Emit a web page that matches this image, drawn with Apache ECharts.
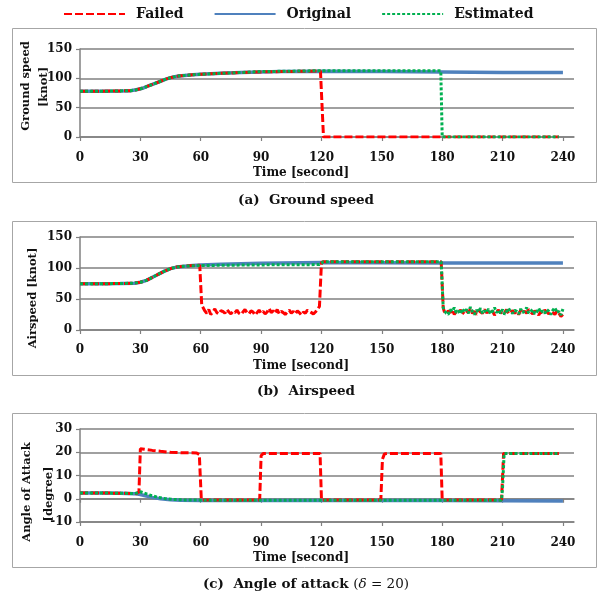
<!DOCTYPE html>
<html>
<head>
<meta charset="utf-8">
<script src="https://cdn.jsdelivr.net/npm/echarts@6/dist/echarts.min.js"></script>
<style>
  html, body { margin: 0; padding: 0; background: #fff; }
  #chart { width: 600px; height: 596px; }
</style>
</head>
<body>
<div id="chart"></div>
<script>
// tick labels
var xTicks = [0, 30, 60, 90, 120, 150, 180, 210, 240];

// (a) ground speed [t, knot]
var gsOriginal = [[0,78],[10,78],[20,78.5],[25,79],[28,80.5],[31,83],[34,87],[37,91],[40,95],[43,99],[46,102],[49,104],[52,105],[56,106],[60,107],[70,108.5],[80,110],[90,111],[100,111.5],[120,112],[150,111.5],[180,111],[210,110],[240,110]];
var gsFailed = [[0,78],[10,78],[20,78.5],[25,79],[28,80.5],[31,83],[34,87],[37,91],[40,95],[43,99],[46,102],[49,104],[52,105],[56,106],[60,107],[70,108.5],[80,110],[90,111],[100,111.5],[119.5,112.5],[121,0],[150,0],[180,0],[210,0],[238,0]];
var gsEstimated = [[0,78],[10,78],[20,78.5],[25,79],[28,80.5],[31,83],[34,87],[37,91],[40,95],[43,99],[46,102],[49,104],[52,105],[56,106],[60,107],[70,108.5],[80,110],[90,111.5],[120,113],[150,113],[179.3,113],[180,0],[210,0],[238,0]];

// (b) airspeed [t, knot]
var asOriginal = [[0,74.5],[10,74.5],[20,75],[27,75.5],[30,77],[33,80],[36,85],[39,90],[42,95],[45,99],[48,101.5],[52,103],[56,104],[60,105],[70,106],[90,107.5],[120,109],[150,108.5],[180,108],[210,108],[240,108]];
var asEstimatedHead = [[0,74.5],[10,74.5],[20,75],[27,75.5],[30,77],[33,80],[36,85],[39,90],[42,95],[45,99],[48,101.5],[52,103],[56,103.5],[60,104],[90,105],[119,105.5],[121,110],[150,110],[179.5,110],[180.5,36]];
var asEstimatedNoise = [32,27,25,33,30,36,28,31,26,34, 29,33,27,37,30,25,32,29,35,27, 31,28,34,26,30,36,28,32,27,33, 25,30,35,29,27,32,30,26,34,28, 31,36,27,30,33,26,29,35,28,31, 27,33,30,25,32,36,28,30,24,34];
var asFailedHead = [[0,74.5],[10,74.5],[20,75],[27,75.5],[30,77],[33,80],[36,85],[39,90],[42,95],[45,99],[48,101.5],[52,103],[56,104],[59.5,104.5],[60.5,40]];
var asFailedNoise1 = [37,31,27,33,25,29,34,28,26,31, 30,27,33,29,26,30,28,32,27,25, 29,33,28,26,31,29,24,28,32,27, 30,26,29,35,28,31,27,33,26,30, 28,25,29,32,27,30,26,31,28,24, 29,27,32,30,28,26,29,33,38];
var asFailedMid = [[120,109],[121,110],[150,110],[179.5,110],[180.5,36]];
var asFailedNoise2 = [30,26,31,28,33,25,30,27,32,29, 26,31,28,34,27,30,25,32,29,27, 33,28,30,26,31,24,29,32,27,30, 28,33,26,29,31,27,30,25,32,28, 30,27,33,29,26,31,28,24,30,27, 32,29,26,30,28,25,31,27,22,25];

// (c) angle of attack [t, degree]
var aoaOriginal = [[0,2.5],[10,2.5],[20,2.4],[27,2.2],[30,1.8],[33,1.2],[36,0.6],[40,0],[45,-0.4],[50,-0.6],[60,-0.8],[90,-0.8],[120,-0.8],[150,-0.8],[180,-0.8],[210,-0.9],[240,-1]];
var aoaFailed = [[0,2.5],[20,2.4],[28,2.2],[29.3,3],[30,21.5],[32,21.3],[36,20.8],[40,20.4],[45,20],[50,19.8],[58,19.7],[59.3,19],[60.3,-0.5],[89.3,-0.5],[90,18.5],[91,19.5],[119.3,19.5],[120,-0.5],[149.5,-0.5],[150.3,17],[151.3,19.3],[153,19.5],[179.3,19.5],[180,-0.5],[209.5,-0.5],[210.5,19.5],[238,19.5]];
var aoaEstimated = [[0,2.5],[20,2.4],[27,2.2],[29,2.6],[30,3],[32,2.4],[35,1.5],[38,0.8],[42,0.1],[46,-0.3],[52,-0.5],[60,-0.6],[90,-0.6],[150,-0.6],[209.5,-0.6],[210,5],[210.8,19.5],[238,19.5]];

function seg(start, vals) {
  var out = [];
  for (var i = 0; i < vals.length; i++) out.push([start + i, vals[i]]);
  return out;
}

var asEstimated = asEstimatedHead.concat(seg(181, asEstimatedNoise));
var asFailed = asFailedHead.concat(seg(61, asFailedNoise1), asFailedMid, seg(181, asFailedNoise2));

var FONT = 'DejaVu Serif';
var GRIDC = '#808080';
var RED = '#ff0000', BLUE = '#4f81bd', GREEN = '#00b050';

function xAxisOf(i, margin, labels) {
  return {
    gridIndex: i, type: 'value', min: 0, max: 245.5, interval: 30, position: 'bottom',
    axisLine: { show: true, onZero: false, lineStyle: { color: GRIDC, width: 1.5 } },
    axisTick: { show: true, length: 4, customValues: xTicks, lineStyle: { color: GRIDC, width: 1.2 } },
    axisLabel: { show: labels !== false, customValues: xTicks, margin: margin, color: '#111', fontFamily: FONT, fontWeight: 'bold', fontSize: 12 },
    splitLine: { show: false }
  };
}
function yAxisOf(i, min, max, step) {
  return {
    gridIndex: i, type: 'value', min: min, max: max, interval: step,
    axisLine: { show: true, lineStyle: { color: GRIDC, width: 1.5 } },
    axisTick: { show: true, length: 4, lineStyle: { color: GRIDC, width: 1.2 } },
    axisLabel: { margin: 8, color: '#111', fontFamily: FONT, fontWeight: 'bold', fontSize: 12 },
    splitLine: { show: true, lineStyle: { color: GRIDC, width: 1.5 } }
  };
}
function line(name, i, data) {
  var st = { width: 3, color: RED, type: [8, 3], cap: 'butt' };
  if (name === 'Original') st = { width: 3.5, color: BLUE, type: 'solid' };
  if (name === 'Estimated') st = { width: 3, color: GREEN, type: [3, 2], cap: 'butt' };
  return {
    name: name, type: 'line', xAxisIndex: i, yAxisIndex: i, data: data,
    symbol: 'none', lineStyle: st, itemStyle: { color: st.color }, animation: false
  };
}
function txt(x, y, s, size, rot) {
  return {
    type: 'text', x: x, y: y, rotation: rot || 0, silent: true,
    style: { text: s, fill: '#111', font: 'bold ' + size + 'px "' + FONT + '"', align: 'center', verticalAlign: 'middle' }
  };
}
function box(y, h) {
  return { type: 'rect', silent: true, z: -1, shape: { x: 12.5, y: y, width: 584, height: h },
    style: { fill: 'none', stroke: '#a6a6a6', lineWidth: 1 } };
}

// angle of attack: line and ticks sit on zero, labels stay at the bottom
var aoaZeroAxis = xAxisOf(2, 0, false);
aoaZeroAxis.offset = -23.25;

var myChart = echarts.init(document.getElementById('chart'));
var option = {
  animation: false,
  legend: {
    data: ['Failed', 'Original', 'Estimated'],
    left: 58, top: 2, itemWidth: 61, itemHeight: 14, itemGap: 30,
    itemStyle: { opacity: 0 },
    textStyle: { fontFamily: FONT, fontWeight: 'bold', fontSize: 14, color: '#111', padding: [0, 0, 0, 6] }
  },
  grid: [
    { left: 80, top: 49, width: 494, height: 88 },
    { left: 80, top: 237, width: 494, height: 93 },
    { left: 80, top: 429, width: 494, height: 93 }
  ],
  xAxis: [xAxisOf(0, 15), xAxisOf(1, 14), xAxisOf(2, 15), aoaZeroAxis],
  yAxis: [yAxisOf(0, 0, 150, 50), yAxisOf(1, 0, 150, 50), yAxisOf(2, -10, 30, 10)],
  series: [
    line('Original', 0, gsOriginal), line('Failed', 0, gsFailed), line('Estimated', 0, gsEstimated),
    line('Original', 1, asOriginal), line('Failed', 1, asFailed), line('Estimated', 1, asEstimated),
    line('Original', 2, aoaOriginal), line('Failed', 2, aoaFailed), line('Estimated', 2, aoaEstimated)
  ],
  graphic: [
    box(28.5, 154), box(221.5, 154), box(413.5, 154),
    txt(301, 173, 'Time [second]', 12), txt(301, 366, 'Time [second]', 12), txt(301, 558, 'Time [second]', 12),
    txt(26, 86, 'Ground speed', 11.5, Math.PI / 2), txt(44, 87, '[knot]', 11.5, Math.PI / 2),
    txt(33, 298, 'Airspeed [knot]', 11.5, Math.PI / 2),
    txt(27, 492, 'Angle of Attack', 11.5, Math.PI / 2), txt(49, 494, '[degree]', 11.5, Math.PI / 2),
    txt(306, 200, '(a)  Ground speed', 13.5), txt(306, 391, '(b)  Airspeed', 13.5),
    {
      type: 'text', x: 306, y: 584, silent: true,
      style: {
        text: '{b|(c)  Angle of attack }{m|(}{i|δ}{m| = 20)}', align: 'center', verticalAlign: 'middle',
        rich: {
          b: { fontFamily: FONT, fontWeight: 'bold', fontSize: 13.5, fill: '#111' },
          m: { fontFamily: 'DejaVu Serif', fontSize: 13.5, fill: '#111' },
          i: { fontFamily: 'DejaVu Serif', fontStyle: 'italic', fontSize: 13.5, fill: '#111' }
        }
      }
    }
  ]
};
myChart.setOption(option);
</script>
</body>
</html>
